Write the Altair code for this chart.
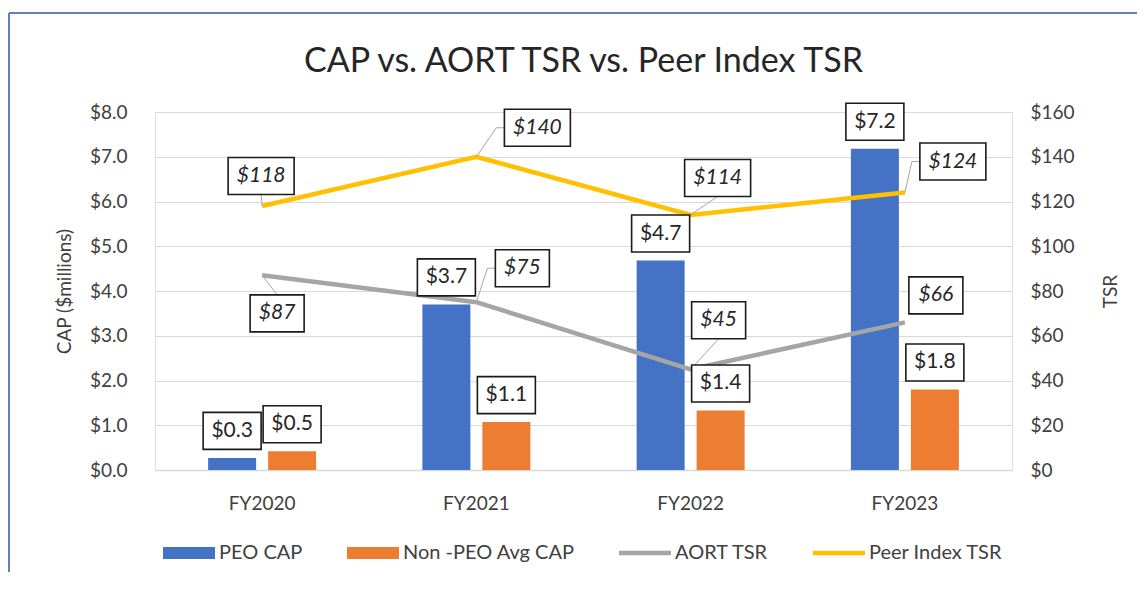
import altair as alt
import pandas as pd

# ---------------- data ----------------
years = ["FY2020", "FY2021", "FY2022", "FY2023"]
peo_cap = [0.27, 3.7, 4.68, 7.18]
non_peo_cap = [0.42, 1.07, 1.33, 1.8]
peo_cap_labels = ["$0.3", "$3.7", "$4.7", "$7.2"]
non_peo_cap_labels = ["$0.5", "$1.1", "$1.4", "$1.8"]
aort_tsr = [87, 75, 45, 66]
peer_tsr = [118, 140, 114, 124]
cap_series = ["PEO CAP", "Non -PEO Avg CAP"]
tsr_series = ["AORT TSR", "Peer Index TSR"]
cap_ticks = [0, 1, 2, 3, 4, 5, 6, 7, 8]
tsr_ticks = [0, 20, 40, 60, 80, 100, 120, 140, 160]
title_text = "CAP vs. AORT TSR vs. Peer Index TSR"

# ---------------- styling / layout ----------------
FONT = "Lato"
TEXT = "#404040"
LABEL_TEXT = "#262626"
GRID = "#d9d9d9"
all_series = cap_series + tsr_series
series_colors = ["#4472c4", "#ed7d31", "#a5a5a5", "#ffc000"]
legend_shapes = [
    "M-1,-0.46H3V0.46H-1Z",
    "M-1,-0.46H3V0.46H-1Z",
    "M-1,-0.18H3V0.18H-1Z",
    "M-1,-0.18H3V0.18H-1Z",
]
BOX_H = 37
CAP_BOX_W = 58
CAP_LABEL_DY = -27
# label callout placement (pixel offsets from the data point) and leader style
tsr_label_layout = {
    ("AORT TSR", "FY2020"): (15, 38, "top"),
    ("AORT TSR", "FY2021"): (46, -34, "left"),
    ("AORT TSR", "FY2022"): (28, -49, "bottom"),
    ("AORT TSR", "FY2023"): (31, -27, "none"),
    ("Peer Index TSR", "FY2020"): (-1, -30, "bottom"),
    ("Peer Index TSR", "FY2021"): (61, -29, "left"),
    ("Peer Index TSR", "FY2022"): (27, -37, "bottom"),
    ("Peer Index TSR", "FY2023"): (48, -31, "left"),
}


def box_path(cx, cy, w, h):
    return f"M{cx - w / 2},{cy - h / 2}H{cx + w / 2}V{cy + h / 2}H{cx - w / 2}Z"


def leader_path(dx, dy, w, h, kind):
    if kind == "top":
        return f"M0,0L{dx},{dy - h / 2}"
    if kind == "bottom":
        return f"M0,0L{dx},{dy + h / 2}"
    if kind == "left":
        lx = dx - w / 2
        return f"M0,0L{lx - 8},{dy}L{lx},{dy}"
    return "M0,0"


# ---------------- tables ----------------
bar_rows = []
for s, vals, labs in [(cap_series[0], peo_cap, peo_cap_labels),
                      (cap_series[1], non_peo_cap, non_peo_cap_labels)]:
    for yr, v, lab in zip(years, vals, labs):
        bar_rows.append({"year": yr, "series": s, "value": v, "label": lab,
                         "box": box_path(0, CAP_LABEL_DY, CAP_BOX_W, BOX_H)})
bars_df = pd.DataFrame(bar_rows)

tsr_rows = []
for s, vals in [(tsr_series[0], aort_tsr), (tsr_series[1], peer_tsr)]:
    for yr, v in zip(years, vals):
        dx, dy, kind = tsr_label_layout[(s, yr)]
        lab = f"${v}"
        w = 66 if len(lab) > 3 else 54
        tsr_rows.append({"year": yr, "series": s, "value": v, "label": lab,
                         "dx": dx, "dy": dy,
                         "box": box_path(dx, dy, w, BOX_H),
                         "leader": leader_path(dx, dy, w, BOX_H, kind)})
tsr_df = pd.DataFrame(tsr_rows)
legend_df = pd.DataFrame({"series": all_series, "zero": [0] * len(all_series)})

# ---------------- encodings ----------------
x_enc = alt.X(
    "year:N",
    title=None,
    scale=alt.Scale(domain=years, paddingInner=0.44, paddingOuter=0.22),
    axis=alt.Axis(labelAngle=0, labelFont=FONT, labelFontSize=19, labelColor=TEXT,
                  labelPadding=24, ticks=False, tickSize=0, domainColor=GRID,
                  domainWidth=1.5),
)
xoff_enc = alt.XOffset("series:N",
                       scale=alt.Scale(domain=cap_series, paddingInner=0.2, paddingOuter=0.1))
cap_scale = alt.Scale(domain=[0, 8], nice=False, zero=True)
tsr_scale = alt.Scale(domain=[0, 160], nice=False, zero=True)
color_scale = alt.Scale(domain=all_series, range=series_colors)

y_cap_axis = alt.Y(
    "value:Q", scale=cap_scale, title="CAP ($millions)",
    axis=alt.Axis(values=cap_ticks, format="$.1f", orient="left", grid=True,
                  gridColor=GRID, gridWidth=1, domain=False, ticks=False, tickSize=0,
                  labelPadding=28, labelFont=FONT, labelFontSize=19, labelColor=TEXT,
                  titleFont=FONT, titleFontSize=19, titleFontWeight="normal",
                  titleColor=TEXT, titlePadding=15),
)
y_tsr_axis = alt.Y(
    "value:Q", scale=tsr_scale, title="TSR",
    axis=alt.Axis(values=tsr_ticks, format="$d", orient="right", grid=False,
                  domain=False, ticks=False, tickSize=0, labelPadding=18,
                  labelFont=FONT, labelFontSize=19, labelColor=TEXT,
                  titleFont=FONT, titleFontSize=19, titleFontWeight="normal",
                  titleColor=TEXT, titlePadding=46, titleAngle=270),
)
y_cap = alt.Y("value:Q", scale=cap_scale, axis=None)
y_tsr = alt.Y("value:Q", scale=tsr_scale, axis=None)

bars = alt.Chart(bars_df).mark_bar().encode(
    x=x_enc, xOffset=xoff_enc, y=y_cap_axis,
    color=alt.Color("series:N", scale=color_scale, legend=None),
)
bar_boxes = alt.Chart(bars_df).mark_point(
    filled=True, fill="white", stroke="#1a1a1a", strokeWidth=1.6, size=4, opacity=1
).encode(x=x_enc, xOffset=xoff_enc, y=y_cap,
         shape=alt.Shape("box:N", scale=None, legend=None))
bar_text = alt.Chart(bars_df).mark_text(
    font=FONT, fontSize=21, color=LABEL_TEXT, dy=CAP_LABEL_DY, baseline="middle",
    align="center"
).encode(x=x_enc, xOffset=xoff_enc, y=y_cap, text="label:N")

lines = alt.Chart(tsr_df).mark_line(strokeWidth=4.5).encode(
    x=x_enc, y=y_tsr_axis,
    color=alt.Color("series:N", scale=color_scale, legend=None),
    detail="series:N",
)
leaders = alt.Chart(tsr_df).mark_point(
    filled=False, stroke="#a6a6a6", strokeWidth=1, size=4, opacity=1
).encode(x=x_enc, y=y_tsr, shape=alt.Shape("leader:N", scale=None, legend=None))
tsr_boxes = alt.Chart(tsr_df).mark_point(
    filled=True, fill="white", stroke="#1a1a1a", strokeWidth=1.6, size=4, opacity=1
).encode(x=x_enc, y=y_tsr, shape=alt.Shape("box:N", scale=None, legend=None))
tsr_text = alt.Chart(tsr_df).mark_text(
    font=FONT, fontSize=21, fontStyle="italic", color=LABEL_TEXT, baseline="middle",
    align="center",
    dx=alt.ExprRef(expr="datum.dx"), dy=alt.ExprRef(expr="datum.dy"),
).encode(x=x_enc, y=y_tsr, text="label:N")

legend_def = alt.Legend(
    title=None, orient="none", legendX=8, legendY=428, direction="horizontal", columns=4,
    symbolSize=676, labelOffset=30, columnPadding=44, labelFont=FONT, labelFontSize=20,
    labelColor=TEXT, labelLimit=400, symbolStrokeWidth=0, padding=0,
)
legend_layer = alt.Chart(legend_df).mark_point(filled=True, opacity=1).encode(
    color=alt.Color("series:N", scale=color_scale, legend=legend_def),
    shape=alt.Shape("series:N", scale=alt.Scale(domain=all_series, range=legend_shapes),
                    legend=legend_def),
    opacity=alt.Opacity("zero:Q", scale=None, legend=None),
)

frame_top = alt.Chart(legend_df).mark_rule(color="#5b7fc2", strokeWidth=2).encode(
    x=alt.value(-146), x2=alt.value(982), y=alt.value(-99))
frame_left = alt.Chart(legend_df).mark_rule(color="#5b7fc2", strokeWidth=2).encode(
    x=alt.value(-146), y=alt.value(-99), y2=alt.value(460))

chart = alt.layer(
    frame_top, frame_left, bars, lines, leaders, bar_boxes, tsr_boxes, bar_text, tsr_text,
    legend_layer,
).resolve_scale(
    y="independent", color="independent", shape="independent"
).properties(
    width=857, height=358,
    padding={"left": 0, "top": 4, "right": 0, "bottom": 0},
    title=alt.Title(title_text, font=FONT, fontSize=34, fontWeight="normal", color="#262626",
                    anchor="middle", offset=0, baseline="alphabetic", dy=94),
).configure_view(stroke=None).configure(background="white")

chart.save("out.html", embed_options={"renderer": "svg", "actions": False})
